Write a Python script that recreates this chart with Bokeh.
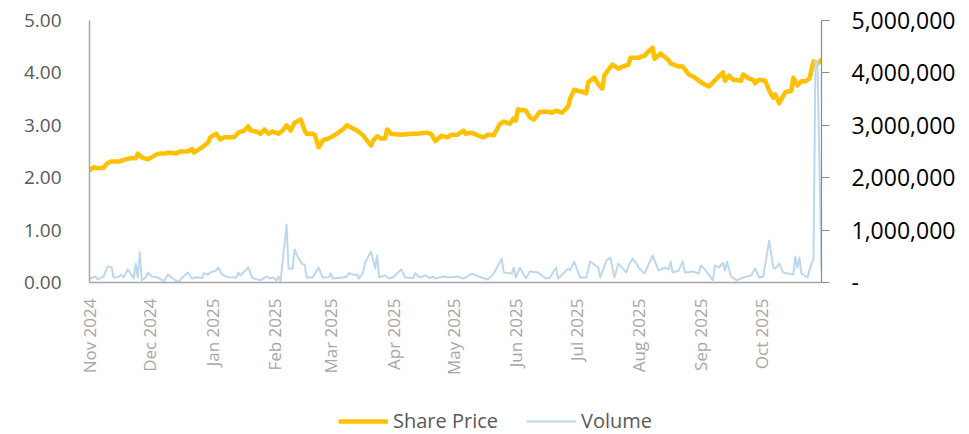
import math
import pandas as pd
from bokeh.plotting import figure
from bokeh.layouts import column
from bokeh.models import (LinearAxis, Range1d, FixedTicker, NumeralTickFormatter,
                          DatetimeTickFormatter, Legend, LegendItem)
from bokeh.embed import file_html
from bokeh.resources import INLINE

# ---------------- data ----------------
price_dates = [
    "2024-11-01", "2024-11-03", "2024-11-05", "2024-11-08", "2024-11-10", "2024-11-12",
    "2024-11-16", "2024-11-19", "2024-11-21", "2024-11-24", "2024-11-25", "2024-11-27",
    "2024-11-30", "2024-12-01", "2024-12-04", "2024-12-06", "2024-12-09", "2024-12-10",
    "2024-12-14", "2024-12-16", "2024-12-20", "2024-12-22", "2024-12-23", "2024-12-25",
    "2024-12-27", "2024-12-30", "2024-12-31", "2025-01-03", "2025-01-05", "2025-01-07",
    "2025-01-09", "2025-01-12", "2025-01-14", "2025-01-17", "2025-01-19", "2025-01-20",
    "2025-01-23", "2025-01-25", "2025-01-27", "2025-01-29", "2025-01-31", "2025-02-03",
    "2025-02-05", "2025-02-07", "2025-02-09", "2025-02-11", "2025-02-14", "2025-02-16",
    "2025-02-17", "2025-02-20", "2025-02-21", "2025-02-23", "2025-02-25", "2025-02-28",
    "2025-03-04", "2025-03-07", "2025-03-09", "2025-03-11", "2025-03-14", "2025-03-17",
    "2025-03-19", "2025-03-21", "2025-03-22", "2025-03-24", "2025-03-26", "2025-03-28",
    "2025-03-29", "2025-03-31", "2025-04-05", "2025-04-10", "2025-04-13", "2025-04-18",
    "2025-04-20", "2025-04-22", "2025-04-25", "2025-04-28", "2025-04-30", "2025-05-03",
    "2025-05-06", "2025-05-07", "2025-05-10", "2025-05-13", "2025-05-16", "2025-05-18",
    "2025-05-21", "2025-05-24", "2025-05-26", "2025-05-29", "2025-05-31", "2025-06-01",
    "2025-06-02", "2025-06-06", "2025-06-08", "2025-06-10", "2025-06-13", "2025-06-17",
    "2025-06-19", "2025-06-21", "2025-06-24", "2025-06-27", "2025-06-28", "2025-06-30",
    "2025-07-03", "2025-07-06", "2025-07-07", "2025-07-10", "2025-07-12", "2025-07-14",
    "2025-07-15", "2025-07-17", "2025-07-19", "2025-07-22", "2025-07-24", "2025-07-27",
    "2025-07-28", "2025-08-01", "2025-08-04", "2025-08-06", "2025-08-08", "2025-08-09",
    "2025-08-12", "2025-08-16", "2025-08-17", "2025-08-21", "2025-08-23", "2025-08-26",
    "2025-08-29", "2025-08-31", "2025-09-02", "2025-09-05", "2025-09-07", "2025-09-12",
    "2025-09-13", "2025-09-15", "2025-09-17", "2025-09-21", "2025-09-22", "2025-09-25",
    "2025-09-27", "2025-09-28", "2025-09-30", "2025-10-03", "2025-10-05", "2025-10-07",
    "2025-10-08", "2025-10-10", "2025-10-13", "2025-10-16", "2025-10-17", "2025-10-19",
    "2025-10-21", "2025-10-23", "2025-10-25", "2025-10-27", "2025-10-28", "2025-10-31",
]
share_price = [
    2.14, 2.20, 2.18, 2.19, 2.28, 2.31,
    2.31, 2.35, 2.37, 2.37, 2.46, 2.39,
    2.35, 2.37, 2.44, 2.46, 2.46, 2.48,
    2.46, 2.50, 2.50, 2.55, 2.48, 2.53,
    2.58, 2.67, 2.77, 2.84, 2.73, 2.77,
    2.77, 2.77, 2.86, 2.90, 2.98, 2.90,
    2.88, 2.84, 2.92, 2.84, 2.88, 2.84,
    2.90, 3.00, 2.90, 3.05, 3.11, 2.90,
    2.84, 2.84, 2.82, 2.58, 2.71, 2.75,
    2.84, 2.92, 3.00, 2.96, 2.90, 2.81,
    2.71, 2.61, 2.71, 2.79, 2.75, 2.75,
    2.92, 2.84, 2.82, 2.84, 2.84, 2.86,
    2.83, 2.70, 2.80, 2.77, 2.82, 2.82,
    2.90, 2.84, 2.86, 2.81, 2.77, 2.82,
    2.81, 3.02, 3.07, 3.03, 3.13, 3.09,
    3.30, 3.28, 3.15, 3.11, 3.26, 3.26,
    3.24, 3.28, 3.24, 3.36, 3.51, 3.68,
    3.65, 3.61, 3.82, 3.91, 3.78, 3.70,
    3.95, 4.06, 4.16, 4.08, 4.12, 4.16,
    4.29, 4.29, 4.33, 4.41, 4.48, 4.27,
    4.37, 4.24, 4.18, 4.12, 4.12, 3.97,
    3.91, 3.85, 3.80, 3.74, 3.82, 4.01,
    3.85, 3.95, 3.87, 3.85, 3.97, 3.89,
    3.87, 3.80, 3.87, 3.85, 3.66, 3.53,
    3.59, 3.42, 3.63, 3.66, 3.91, 3.76,
    3.84, 3.84, 3.89, 4.22, 4.14, 4.25,
]

volume_dates = [
    "2024-11-01", "2024-11-04", "2024-11-05", "2024-11-08", "2024-11-10", "2024-11-12",
    "2024-11-13", "2024-11-15", "2024-11-17", "2024-11-18", "2024-11-20", "2024-11-22",
    "2024-11-23", "2024-11-24", "2024-11-25", "2024-11-26", "2024-11-27", "2024-11-29",
    "2024-11-30", "2024-12-02", "2024-12-05", "2024-12-08", "2024-12-10", "2024-12-15",
    "2024-12-17", "2024-12-20", "2024-12-22", "2024-12-24", "2024-12-27", "2024-12-28",
    "2024-12-30", "2024-12-31", "2025-01-03", "2025-01-04", "2025-01-06", "2025-01-09",
    "2025-01-13", "2025-01-14", "2025-01-15", "2025-01-19", "2025-01-21", "2025-01-25",
    "2025-01-28", "2025-01-30", "2025-01-31", "2025-02-02", "2025-02-03", "2025-02-04",
    "2025-02-07", "2025-02-08", "2025-02-10", "2025-02-11", "2025-02-13", "2025-02-15",
    "2025-02-16", "2025-02-17", "2025-02-20", "2025-02-23", "2025-02-25", "2025-02-28",
    "2025-03-01", "2025-03-02", "2025-03-07", "2025-03-09", "2025-03-10", "2025-03-12",
    "2025-03-14", "2025-03-15", "2025-03-17", "2025-03-18", "2025-03-21", "2025-03-23",
    "2025-03-24", "2025-03-25", "2025-03-28", "2025-03-30", "2025-04-01", "2025-04-05",
    "2025-04-07", "2025-04-11", "2025-04-12", "2025-04-14", "2025-04-17", "2025-04-19",
    "2025-04-21", "2025-04-22", "2025-04-26", "2025-04-29", "2025-05-03", "2025-05-06",
    "2025-05-10", "2025-05-15", "2025-05-18", "2025-05-21", "2025-05-25", "2025-05-26",
    "2025-05-30", "2025-05-31", "2025-06-01", "2025-06-03", "2025-06-06", "2025-06-08",
    "2025-06-12", "2025-06-16", "2025-06-18", "2025-06-21", "2025-06-22", "2025-06-27",
    "2025-06-28", "2025-06-30", "2025-07-03", "2025-07-06", "2025-07-08", "2025-07-12",
    "2025-07-13", "2025-07-16", "2025-07-18", "2025-07-20", "2025-07-22", "2025-07-26",
    "2025-07-27", "2025-07-29", "2025-07-31", "2025-08-01", "2025-08-04", "2025-08-08",
    "2025-08-11", "2025-08-14", "2025-08-16", "2025-08-17", "2025-08-18", "2025-08-21",
    "2025-08-23", "2025-08-24", "2025-08-28", "2025-08-31", "2025-09-01", "2025-09-03",
    "2025-09-07", "2025-09-08", "2025-09-10", "2025-09-12", "2025-09-13", "2025-09-14",
    "2025-09-16", "2025-09-19", "2025-09-22", "2025-09-26", "2025-09-28", "2025-09-30",
    "2025-10-02", "2025-10-05", "2025-10-07", "2025-10-08", "2025-10-10", "2025-10-12",
    "2025-10-17", "2025-10-18", "2025-10-19", "2025-10-20", "2025-10-21", "2025-10-24",
    "2025-10-26", "2025-10-27", "2025-10-28", "2025-10-29", "2025-10-31",
]
volume = [
    70000, 115000, 57000, 115000, 305000, 290000,
    95000, 100000, 150000, 95000, 250000, 135000,
    75000, 360000, 95000, 575000, 40000, 95000,
    190000, 115000, 95000, 25000, 150000, 5000,
    85000, 190000, 75000, 100000, 85000, 180000,
    150000, 190000, 230000, 285000, 150000, 100000,
    95000, 190000, 135000, 285000, 85000, 40000,
    115000, 75000, 100000, 40000, 115000, 20000,
    1105000, 265000, 265000, 630000, 455000, 345000,
    345000, 95000, 100000, 285000, 95000, 100000,
    170000, 75000, 95000, 115000, 180000, 150000,
    150000, 75000, 190000, 380000, 590000, 265000,
    515000, 100000, 135000, 75000, 100000, 250000,
    95000, 85000, 180000, 100000, 135000, 85000,
    115000, 75000, 115000, 95000, 115000, 75000,
    170000, 95000, 57000, 170000, 455000, 190000,
    170000, 285000, 95000, 285000, 75000, 210000,
    190000, 75000, 95000, 285000, 75000, 265000,
    230000, 400000, 95000, 95000, 400000, 285000,
    95000, 420000, 475000, 95000, 360000, 190000,
    325000, 455000, 360000, 285000, 170000, 515000,
    230000, 285000, 250000, 400000, 190000, 230000,
    400000, 190000, 210000, 170000, 325000, 250000,
    40000, 325000, 285000, 380000, 230000, 400000,
    115000, 40000, 95000, 135000, 265000, 95000,
    115000, 800000, 285000, 265000, 360000, 190000,
    150000, 495000, 285000, 475000, 170000, 95000,
    360000, 420000, 4240000, 4200000, 265000,
]

month_ticks = ["2024-11-01", "2024-12-01", "2025-01-01", "2025-02-01", "2025-03-01",
               "2025-04-01", "2025-05-01", "2025-06-01", "2025-07-01", "2025-08-01",
               "2025-09-01", "2025-10-01"]
price_ticks = [0, 1, 2, 3, 4, 5]
volume_ticks = [0, 1000000, 2000000, 3000000, 4000000, 5000000]
series_names = ["Share Price", "Volume"]

# ---------------- styles ----------------
FONT = "Open Sans"
PRICE_COLOR = "#FFC000"
VOL_COLOR = "#BDD7EE"

# ---------------- main figure ----------------
px = pd.to_datetime(price_dates)
vx = pd.to_datetime(volume_dates)
x_start = pd.Timestamp("2024-11-01")
x_end = pd.Timestamp("2025-10-31")

p = figure(x_axis_type="datetime", output_backend="svg", toolbar_location=None,
           frame_width=732, frame_height=262,
           min_border_left=89, min_border_right=140, min_border_top=20, min_border_bottom=112,
           x_range=Range1d(x_start, x_end), y_range=Range1d(0, 5))
p.outline_line_color = None
p.grid.visible = False
p.background_fill_color = "white"
p.border_fill_color = "white"

p.extra_y_ranges = {"vol": Range1d(0, 5000000)}

p.line(px, share_price, line_color=PRICE_COLOR, line_width=4.5,
       line_join="round", line_cap="round")
p.line(vx, volume, line_color=VOL_COLOR, line_width=2, y_range_name="vol",
       line_join="round")

# left axis
ya = p.yaxis[0]
ya.ticker = FixedTicker(ticks=price_ticks)
ya.formatter = NumeralTickFormatter(format="0.00")
ya.axis_line_color = "#A6A6A6"
ya.axis_line_width = 1.5
ya.major_tick_line_color = None
ya.minor_tick_line_color = None
ya.major_label_text_font = FONT
ya.major_label_text_font_size = "19px"
ya.major_label_text_color = "#595959"
ya.major_label_standoff = 22

# right axis
ra = LinearAxis(y_range_name="vol", ticker=FixedTicker(ticks=volume_ticks),
                formatter=NumeralTickFormatter(format="0,0"))
ra.major_label_overrides = {0: "-"}
ra.axis_line_color = "#8C8C8C"
ra.axis_line_width = 1.2
ra.major_tick_line_color = "#8C8C8C"
ra.major_tick_line_width = 1.2
ra.major_tick_in = 0
ra.major_tick_out = 8
ra.minor_tick_line_color = None
ra.major_label_text_font = FONT
ra.major_label_text_font_size = "23px"
ra.major_label_text_color = "#000000"
ra.major_label_standoff = 22
p.add_layout(ra, "right")

# bottom axis
xa = p.xaxis[0]
xa.ticker = FixedTicker(ticks=[pd.Timestamp(t).value // 10**6 for t in month_ticks])
xa.formatter = DatetimeTickFormatter(days="%b %Y", months="%b %Y", years="%b %Y",
                                     hours="%b %Y", minutes="%b %Y")
xa.major_label_orientation = math.pi / 2
xa.axis_line_color = "#A6A6A6"
xa.axis_line_width = 1.5
xa.major_tick_line_color = None
xa.major_tick_out = 0
xa.major_tick_in = 0
xa.minor_tick_line_color = None
xa.minor_tick_out = 0
xa.minor_tick_in = 0
xa.major_label_text_font = FONT
xa.major_label_text_font_size = "17px"
xa.major_label_text_color = "#A6A6A6"
xa.major_label_standoff = 16

# ---------------- legend strip ----------------
# legend-only renderers: a single NaN point each, so nothing is drawn in the strip
nan = float("nan")
lg = figure(width=961, height=40, output_backend="svg", toolbar_location=None,
            min_border=0, x_range=Range1d(0, 1), y_range=Range1d(0, 1),
            x_axis_location=None, y_axis_location=None)
lg.outline_line_color = None
lg.grid.visible = False
lg_price = lg.line(x=[nan], y=[nan], line_color=PRICE_COLOR, line_width=4.5)
lg_vol = lg.line(x=[nan], y=[nan], line_color=VOL_COLOR, line_width=2)

legend = Legend(items=[LegendItem(label=series_names[0], renderers=[lg_price]),
                       LegendItem(label=series_names[1], renderers=[lg_vol])],
                orientation="horizontal", location=(249, 0),
                label_text_font=FONT, label_text_font_size="20px",
                label_text_color="#595959", glyph_width=50, glyph_height=20,
                label_standoff=5, label_height=20,
                spacing=28, border_line_color=None, background_fill_alpha=0,
                margin=0, padding=2)
lg.add_layout(legend)

layout = column(p, lg, spacing=0)
open("out.html", "w").write(file_html(layout, INLINE))
